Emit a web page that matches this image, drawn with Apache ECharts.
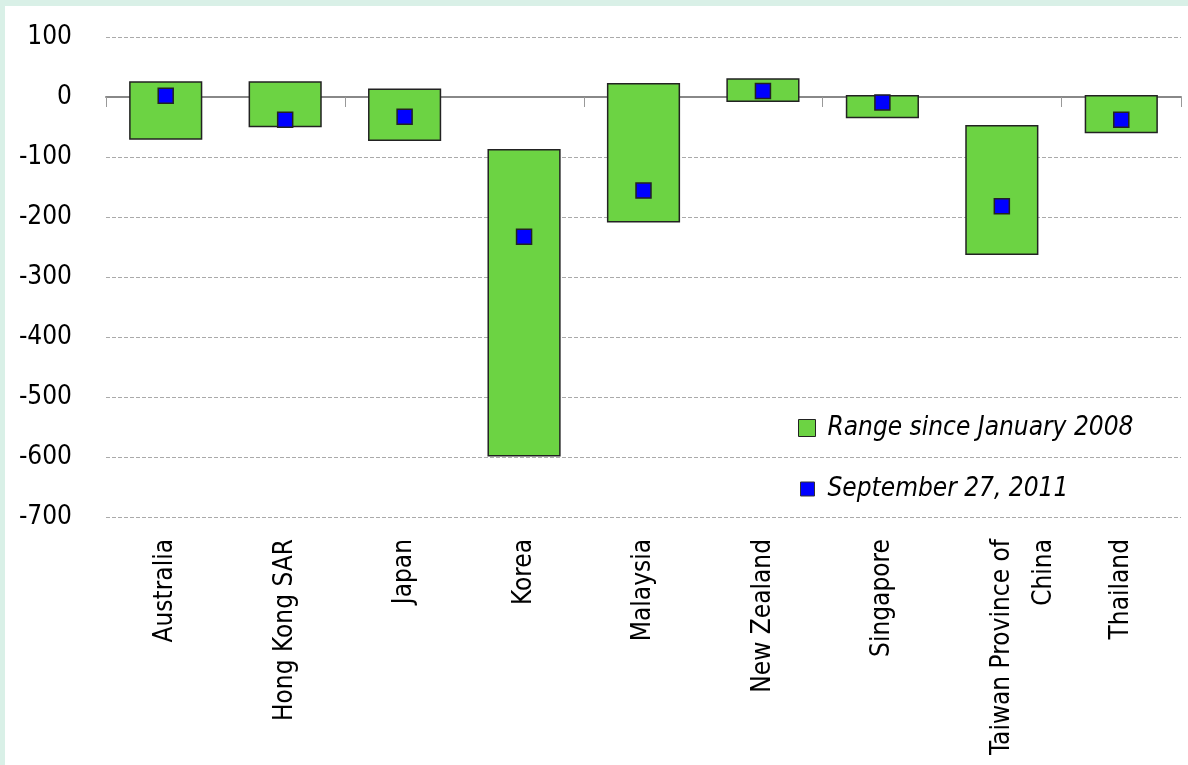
<!DOCTYPE html>
<html>
<head>
<meta charset="utf-8">
<script src="https://cdn.jsdelivr.net/npm/echarts@6/dist/echarts.min.js"></script>
<style>
html,body{margin:0;padding:0;background:#d9f0e7;width:1188px;height:765px;overflow:hidden;}
#c{position:absolute;left:5px;top:6px;width:1183px;height:759px;background:#fff;}
</style>
</head>
<body>
<div id="c"></div>
<script>
var categories = ['Australia','Hong Kong SAR','Japan','Korea','Malaysia','New Zealand','Singapore','Taiwan Province of\nChina','Thailand'];
var rangeHigh = [25, 25, 13, -88, 22, 30, 2, -48, 2];
var rangeLow = [-70, -49, -72, -598, -208, -7, -34, -262, -59];
var sep2011 = [2, -38, -33, -233, -156, 10, -9, -182, -38];
var yTicks = [-700, -600, -500, -400, -300, -200, -100, 0, 100];

var FONT = "'Liberation Sans Narrow','Arial Narrow','DejaVu Sans Condensed',sans-serif";
var chart = echarts.init(document.getElementById('c'));
var rangeData = categories.map(function(c, i){ return [i, rangeLow[i], rangeHigh[i]]; });

chart.setOption({
  animation: false,
  grid: {left: 101, right: 7, top: 31, bottom: 248, outerBoundsMode: 'none', containLabel: false},
  legend: [
    {
      orient: 'vertical', left: 788, top: 402, padding: 5,
      itemWidth: 17, itemHeight: 17,
      textStyle: {fontFamily: FONT, fontStyle: 'italic', fontSize: 26, color: '#000', lineHeight: 30, padding: [0, 0, 0, 7]},
      data: [
        {name: 'Range since January 2008', icon: 'rect', itemStyle: {color: '#6cd343', borderColor: '#222', borderWidth: 1}}
      ]
    },
    {
      orient: 'vertical', left: 790, top: 463, padding: 5,
      itemWidth: 14, itemHeight: 14,
      textStyle: {fontFamily: FONT, fontStyle: 'italic', fontSize: 26, color: '#000', lineHeight: 30, padding: [0, 0, 0, 8]},
      data: [
        {name: 'September 27, 2011', icon: 'rect', itemStyle: {color: '#0000ff', borderColor: '#333', borderWidth: 1}}
      ]
    }
  ],
  xAxis: [
    {type: 'category', data: categories, position: 'bottom',
     axisLine: {show: false, onZero: false}, axisTick: {show: false},
     axisLabel: {rotate: 90, interval: 0, margin: 22, fontFamily: FONT, fontSize: 26, color: '#000', lineHeight: 42,
       formatter: function(v){ return v.indexOf('\n') >= 0 ? ' \n' + v : v; }}},
    {type: 'category', data: categories, position: 'bottom',
     axisLine: {show: true, onZero: true, onZeroAxisIndex: 0, lineStyle: {color: '#888', width: 2}},
     axisTick: {show: true, length: 10, lineStyle: {color: '#999', width: 1}},
     axisLabel: {show: false}}
  ],
  yAxis: {
    type: 'value', min: -700, max: 100, interval: 100,
    axisLine: {show: false}, axisTick: {show: false},
    axisLabel: {margin: 34, fontFamily: FONT, fontSize: 26, color: '#000', padding: [5, 0, 0, 0],
      formatter: function(v){ return yTicks.indexOf(v) >= 0 ? String(v) : ''; }},
    splitLine: {lineStyle: {color: '#aaa', type: [4, 2], width: 1}}
  },
  series: [
    {
      name: 'Range since January 2008', type: 'custom', xAxisIndex: 0,
      encode: {x: 0, y: [1, 2]},
      data: rangeData,
      renderItem: function(params, api){
        var x = api.value(0);
        var p1 = api.coord([x, api.value(2)]);
        var p2 = api.coord([x, api.value(1)]);
        var w = api.size([1, 0])[0] * 0.6;
        return {
          type: 'rect',
          shape: {x: p1[0] - w/2, y: p1[1], width: w, height: p2[1] - p1[1]},
          style: {fill: '#6cd343', stroke: '#222', lineWidth: 1.5}
        };
      },
      z: 2
    },
    {
      name: 'September 27, 2011', type: 'scatter', xAxisIndex: 0,
      symbol: 'rect', symbolSize: 15,
      itemStyle: {color: '#0000ff', borderColor: '#222', borderWidth: 1.5, opacity: 1},
      data: sep2011, z: 3
    }
  ]
});
</script>
</body>
</html>
